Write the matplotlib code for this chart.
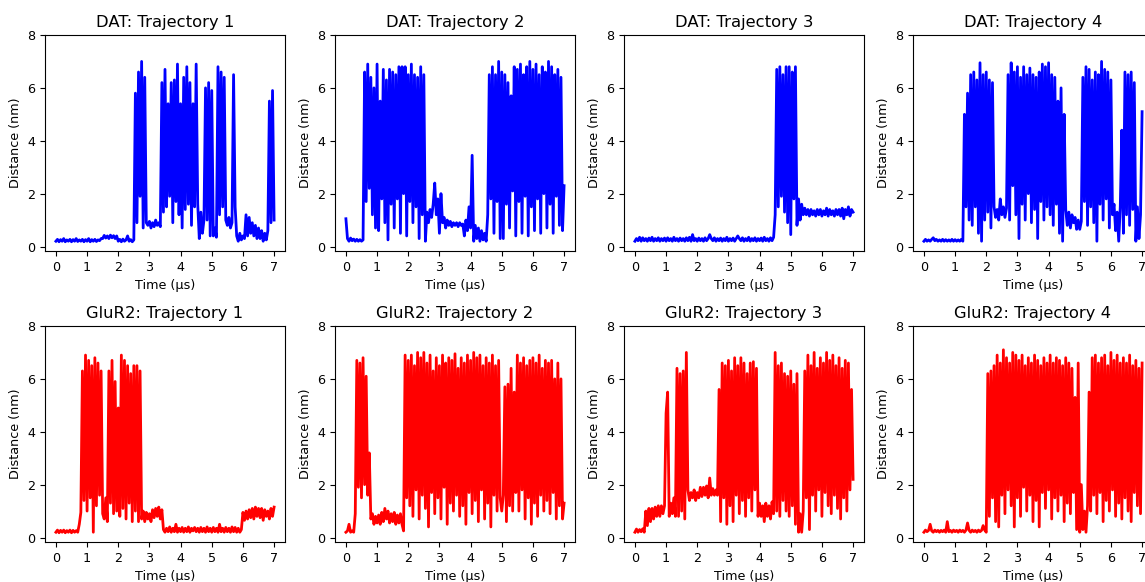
import numpy as np
import matplotlib
matplotlib.use("Agg")
import matplotlib.pyplot as plt

# distance every 0.05 us, from 0 to 7 us (141 samples each)
time_us = np.linspace(0, 7, 141)

dat_1 = [0.2, 0.27, 0.18, 0.26, 0.2, 0.3, 0.18, 0.25, 0.2, 0.27,
         0.18, 0.26, 0.2, 0.3, 0.19, 0.25, 0.2, 0.27, 0.18, 0.26,
         0.2, 0.3, 0.18, 0.26, 0.2, 0.27, 0.19, 0.25, 0.22, 0.3,
         0.3, 0.42, 0.32, 0.4, 0.3, 0.43, 0.33, 0.41, 0.3, 0.4,
         0.2, 0.27, 0.18, 0.28, 0.2, 0.25, 0.4, 0.2, 0.26, 0.18,
         0.25, 5.8, 0.9, 6.6, 1.9, 7.0, 0.7, 6.4, 0.9, 0.8,
         0.95, 0.7, 0.9, 0.75, 1.0, 0.8, 0.9, 0.75, 6.2, 1.3,
         6.7, 1.5, 5.4, 1.9, 6.2, 0.9, 6.3, 1.7, 6.9, 1.2,
         5.4, 0.7, 6.4, 1.4, 6.8, 1.6, 6.2, 0.8, 5.4, 1.5,
         6.9, 1.6, 0.3, 1.3, 0.5, 1.0, 6.0, 1.0, 6.2, 0.4,
         5.9, 0.4, 0.7, 0.35, 6.8, 1.2, 6.6, 1.5, 6.4, 1.0,
         0.8, 1.1, 0.7, 0.9, 6.5, 1.5, 0.4, 0.2, 0.5, 0.25,
         0.4, 0.3, 1.2, 0.4, 1.1, 0.5, 0.9, 0.4, 0.8, 0.3,
         0.7, 0.3, 0.6, 0.2, 0.5, 0.25, 0.6, 5.5, 0.9, 5.9,
         1.0]

dat_2 = [1.05, 0.3, 0.2, 0.32, 0.22, 0.28, 0.2, 0.27, 0.2, 0.26,
         0.2, 0.25, 6.6, 1.7, 6.9, 2.2, 6.4, 1.2, 6.0, 0.7,
         6.9, 0.6, 5.5, 1.8, 6.7, 0.9, 6.3, 0.25, 6.7, 1.6,
         6.6, 0.7, 6.5, 1.8, 6.8, 0.5, 6.8, 2.0, 6.8, 0.4,
         6.5, 1.7, 6.9, 0.9, 6.5, 1.5, 6.4, 0.3, 6.8, 1.2,
         6.5, 0.2, 1.3, 0.9, 1.4, 1.1, 1.6, 2.4, 1.2, 1.8,
         0.5, 2.0, 0.9, 1.1, 0.7, 1.0, 0.8, 0.95, 0.75, 0.9,
         0.8, 0.9, 0.75, 0.9, 0.8, 0.85, 0.4, 1.0, 0.6, 1.5,
         0.7, 3.45, 0.2, 0.8, 0.3, 0.7, 0.2, 0.6, 0.25, 0.5,
         0.2, 1.2, 6.5, 1.8, 6.8, 0.5, 6.5, 1.7, 7.0, 0.3,
         6.6, 0.3, 6.5, 1.6, 6.2, 0.7, 5.7, 2.1, 6.8, 0.4,
         6.7, 1.7, 6.9, 0.5, 6.5, 1.9, 6.8, 0.4, 7.0, 1.5,
         6.7, 0.6, 6.9, 1.8, 6.5, 0.5, 6.8, 2.0, 6.6, 0.7,
         7.0, 1.6, 6.8, 0.5, 6.5, 1.9, 6.7, 0.8, 6.4, 0.6,
         2.3]

dat_3 = [0.2, 0.3, 0.22, 0.35, 0.2, 0.33, 0.22, 0.3, 0.2, 0.32,
         0.22, 0.35, 0.2, 0.3, 0.22, 0.33, 0.2, 0.3, 0.22, 0.32,
         0.2, 0.33, 0.22, 0.3, 0.2, 0.35, 0.22, 0.3, 0.2, 0.32,
         0.22, 0.3, 0.2, 0.33, 0.22, 0.35, 0.2, 0.45, 0.22, 0.3,
         0.2, 0.32, 0.22, 0.3, 0.2, 0.33, 0.22, 0.3, 0.45, 0.3,
         0.22, 0.33, 0.2, 0.3, 0.22, 0.32, 0.2, 0.3, 0.22, 0.35,
         0.2, 0.3, 0.22, 0.32, 0.2, 0.3, 0.4, 0.3, 0.22, 0.33,
         0.2, 0.3, 0.22, 0.35, 0.2, 0.3, 0.22, 0.33, 0.2, 0.3,
         0.22, 0.32, 0.2, 0.35, 0.22, 0.3, 0.2, 0.33, 0.22, 0.35,
         1.2, 6.7, 1.5, 6.8, 1.9, 6.5, 1.3, 6.8, 0.9, 6.8,
         0.45, 6.6, 1.8, 6.8, 0.8, 1.8, 1.0, 1.6, 1.2, 1.45,
         1.2, 1.4, 1.15, 1.4, 1.2, 1.35, 1.15, 1.4, 1.2, 1.4,
         1.15, 1.35, 1.2, 1.45, 1.15, 1.4, 1.2, 1.35, 1.15, 1.4,
         1.2, 1.4, 1.15, 1.45, 1.05, 1.4, 1.2, 1.5, 1.15, 1.4,
         1.3]

dat_4 = [0.2, 0.27, 0.2, 0.25, 0.2, 0.27, 0.33, 0.22, 0.27, 0.2,
         0.25, 0.2, 0.27, 0.2, 0.26, 0.2, 0.25, 0.2, 0.27, 0.2,
         0.26, 0.2, 0.25, 0.2, 0.27, 0.2, 5.0, 1.5, 5.8, 1.0,
         6.5, 0.8, 6.6, 1.5, 6.3, 0.5, 6.95, 0.2, 6.5, 1.0,
         6.6, 1.3, 6.3, 0.7, 6.2, 1.5, 1.1, 1.4, 1.0, 1.8,
         1.2, 1.5, 1.1, 1.45, 6.5, 1.0, 6.95, 2.3, 6.6, 1.2,
         6.8, 0.3, 6.4, 1.6, 6.8, 1.0, 6.5, 2.0, 6.75, 0.9,
         6.5, 1.4, 6.4, 0.3, 6.6, 1.7, 6.9, 1.0, 6.8, 1.5,
         6.95, 1.2, 6.5, 0.8, 6.4, 1.6, 5.5, 0.5, 6.0, 0.2,
         5.0, 1.4, 0.8, 1.3, 0.7, 1.2, 0.9, 1.1, 0.65, 1.0,
         0.65, 0.95, 6.4, 1.7, 6.8, 0.8, 6.7, 1.5, 6.3, 0.9,
         6.6, 0.2, 6.5, 1.6, 7.0, 1.0, 6.7, 1.8, 6.6, 0.7,
         6.3, 1.2, 1.6, 0.6, 1.3, 0.2, 1.5, 4.4, 0.5, 6.6,
         1.2, 6.5, 0.8, 6.6, 1.4, 6.2, 0.2, 1.5, 0.3, 1.2,
         5.1]

glur2_1 = [0.2, 0.28, 0.18, 0.27, 0.2, 0.28, 0.18, 0.26, 0.2, 0.28,
           0.18, 0.27, 0.2, 0.26, 0.2, 0.5, 0.95, 6.3, 1.4, 6.9,
           1.0, 6.7, 1.5, 6.5, 0.2, 6.8, 1.2, 6.6, 1.6, 6.3,
           0.9, 0.7, 1.5, 0.6, 6.3, 1.3, 6.7, 0.9, 5.9, 1.0,
           4.9, 0.8, 6.9, 1.1, 6.7, 0.7, 6.5, 1.3, 6.2, 0.6,
           6.5, 1.0, 6.5, 0.6, 6.3, 0.7, 1.0, 0.6, 0.95, 0.7,
           0.9, 0.6, 1.05, 0.75, 1.1, 0.8, 1.15, 0.7, 1.05, 0.3,
           0.2, 0.35, 0.22, 0.4, 0.2, 0.35, 0.22, 0.5, 0.2, 0.35,
           0.22, 0.38, 0.2, 0.35, 0.22, 0.4, 0.2, 0.35, 0.25, 0.38,
           0.22, 0.35, 0.2, 0.38, 0.22, 0.35, 0.2, 0.4, 0.22, 0.35,
           0.2, 0.38, 0.22, 0.35, 0.2, 0.5, 0.22, 0.35, 0.2, 0.38,
           0.22, 0.35, 0.2, 0.4, 0.22, 0.38, 0.2, 0.35, 0.2, 0.3,
           0.95, 0.65, 1.0, 0.7, 1.05, 0.75, 1.1, 0.7, 1.15, 0.8,
           1.1, 0.75, 1.1, 0.65, 1.05, 0.8, 1.0, 0.7, 1.1, 0.8,
           1.15]

glur2_2 = [0.2, 0.25, 0.5, 0.2, 0.25, 0.2, 0.9, 6.7, 1.9, 6.6,
           1.5, 6.8, 2.0, 6.1, 1.6, 3.2, 0.7, 0.9, 0.5, 0.8,
           0.55, 0.85, 0.5, 0.95, 0.6, 1.1, 0.7, 1.0, 0.55, 0.9,
           0.6, 0.95, 0.5, 0.85, 0.55, 0.9, 0.5, 0.25, 6.9, 1.5,
           6.7, 1.2, 6.9, 0.8, 6.5, 1.8, 7.0, 0.7, 6.8, 1.6,
           7.0, 1.1, 6.6, 0.4, 6.9, 1.7, 6.3, 0.9, 6.8, 1.5,
           6.5, 0.7, 6.9, 1.9, 6.6, 0.5, 6.8, 1.3, 6.7, 1.0,
           6.95, 1.6, 6.4, 0.8, 6.8, 1.2, 6.6, 0.5, 6.9, 1.7,
           6.7, 0.9, 7.0, 1.4, 6.8, 0.6, 6.9, 1.8, 6.5, 0.7,
           6.8, 1.3, 6.6, 0.4, 6.9, 1.6, 6.5, 1.0, 6.7, 1.5,
           1.0, 1.6, 5.7, 0.6, 5.8, 1.2, 6.4, 1.0, 5.5, 1.7,
           6.9, 1.0, 6.6, 1.8, 6.8, 0.7, 6.5, 1.5, 6.7, 0.5,
           6.8, 1.3, 6.6, 0.8, 6.9, 1.6, 6.4, 1.0, 6.7, 1.4,
           6.6, 0.9, 6.7, 1.7, 6.0, 0.7, 6.6, 1.2, 6.0, 0.7,
           1.3]

glur2_3 = [0.2, 0.32, 0.2, 0.3, 0.22, 0.33, 0.2, 1.0, 0.45, 1.1,
           0.6, 1.1, 0.7, 1.15, 0.8, 1.2, 0.8, 1.2, 0.9, 1.2,
           4.7, 5.5, 0.8, 1.3, 0.9, 1.5, 0.8, 6.4, 0.8, 6.2,
           1.0, 6.3, 0.7, 7.0, 1.8, 1.4, 1.7, 1.5, 1.8, 1.4,
           1.7, 1.5, 1.9, 1.55, 1.9, 1.6, 1.95, 1.5, 2.25, 1.6,
           1.85, 1.6, 1.8, 1.6, 5.6, 0.6, 6.6, 1.5, 6.5, 0.5,
           6.7, 1.2, 6.3, 0.6, 6.8, 1.6, 6.5, 0.9, 6.8, 1.4,
           6.6, 0.8, 6.2, 1.5, 6.6, 1.0, 6.65, 1.8, 6.4, 0.8,
           1.3, 0.8, 1.2, 0.6, 1.3, 0.8, 1.2, 0.7, 1.35, 0.9,
           7.0, 1.0, 6.5, 0.8, 6.6, 1.4, 6.2, 1.0, 6.1, 0.8,
           6.3, 1.2, 5.8, 0.5, 6.2, 0.2, 0.9, 0.2, 1.0, 6.3,
           1.5, 6.9, 0.3, 6.5, 1.6, 7.0, 1.0, 6.4, 1.8, 6.8,
           0.8, 6.6, 1.7, 7.0, 1.2, 6.7, 0.9, 6.9, 1.6, 6.5,
           1.1, 6.8, 0.7, 6.4, 1.5, 6.7, 1.0, 6.6, 1.8, 5.6,
           2.2]

glur2_4 = [0.2, 0.28, 0.22, 0.27, 0.5, 0.25, 0.2, 0.28, 0.22, 0.27,
           0.2, 0.27, 0.22, 0.28, 0.2, 0.6, 0.22, 0.27, 0.2, 0.28,
           0.22, 0.27, 0.2, 0.28, 0.22, 0.27, 0.2, 0.28, 0.55, 0.27,
           0.2, 0.28, 0.22, 0.27, 0.2, 0.28, 0.22, 0.27, 0.45, 0.28,
           0.2, 6.2, 0.8, 6.3, 1.5, 6.5, 0.6, 6.9, 0.4, 6.6,
           1.6, 7.1, 0.9, 6.8, 1.8, 6.6, 1.2, 7.0, 0.4, 6.9,
           1.5, 6.7, 0.8, 6.9, 1.9, 6.5, 1.0, 6.8, 1.6, 6.6,
           0.6, 6.9, 1.4, 6.7, 0.4, 6.5, 1.7, 6.8, 1.1, 6.6,
           1.8, 6.9, 0.7, 6.6, 1.5, 6.8, 1.0, 6.7, 1.6, 6.5,
           0.6, 6.8, 1.3, 6.6, 0.9, 6.4, 1.7, 5.3, 0.3, 6.6,
           0.2, 2.0, 0.3, 1.0, 0.2, 1.2, 5.5, 1.0, 6.8, 1.6,
           6.9, 0.9, 6.6, 1.7, 6.8, 0.6, 6.9, 1.4, 6.5, 1.0,
           7.0, 1.8, 6.7, 0.8, 6.9, 1.3, 6.6, 0.7, 6.8, 1.5,
           6.6, 1.0, 6.9, 0.6, 6.5, 1.7, 6.7, 1.2, 6.4, 0.9,
           6.6]

dat_runs = [dat_1, dat_2, dat_3, dat_4]
glur2_runs = [glur2_1, glur2_2, glur2_3, glur2_4]

fig = plt.figure(figsize=(11.45, 5.82), dpi=100)
W, H = 1145.0, 582.0
lefts = [45, 335, 624, 913]   # pixel left edge of each column
rows = [(35, 251), (326, 542)]  # pixel top/bottom of each row

for r, (name, runs, col) in enumerate([("DAT", dat_runs, "blue"),
                                       ("GluR2", glur2_runs, "red")]):
    top, bot = rows[r]
    for c, vals in enumerate(runs):
        ax = fig.add_axes([lefts[c] / W, (H - bot) / H, 240 / W, (bot - top) / H])
        ax.plot(time_us, vals, color=col, lw=2.0)
        ax.set_xlim(-0.35, 7.35)
        ax.set_ylim(-0.17, 8)
        ax.set_xticks(range(8))
        ax.set_yticks([0, 2, 4, 6, 8])
        ax.tick_params(labelsize=9.2)
        ax.set_title(f"{name}: Trajectory {c + 1}", fontsize=11.8)
        ax.set_xlabel("Time (μs)", fontsize=9.2)
        ax.set_ylabel("Distance (nm)", fontsize=9.2)

fig.savefig("out.png", dpi=100)
